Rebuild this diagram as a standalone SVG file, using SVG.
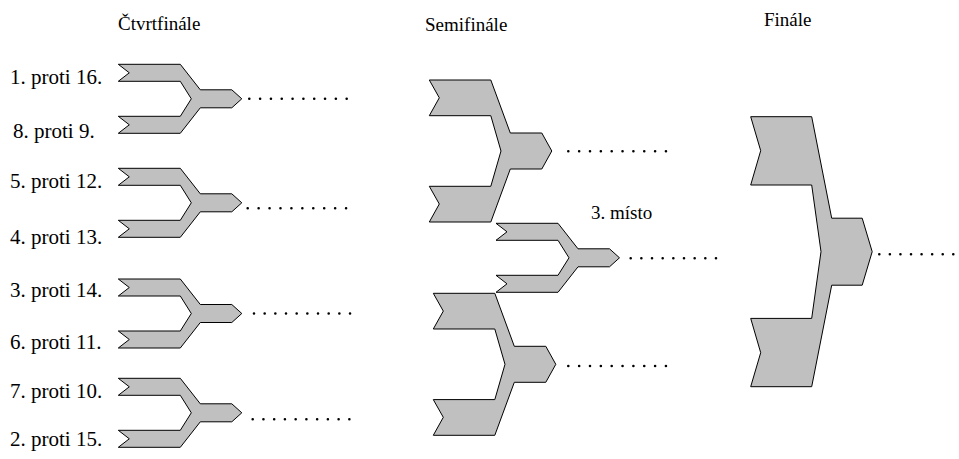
<svg xmlns="http://www.w3.org/2000/svg" width="959" height="459" viewBox="0 0 959 459">
<style>
.t{font-family:'Liberation Serif','DejaVu Serif','Times New Roman',serif;font-size:19px;fill:#000}
.l{font-size:21px}
.s{fill:#c0c0c0;stroke:#000;stroke-width:1;stroke-linejoin:miter}
.d{fill:none;stroke:#000;stroke-width:2.6;stroke-linecap:round}
</style>
<defs>
<path id="qf" d="M0,0 H62 L82,25.5 H113.5 L123.5,34.5 L113.5,43.5 H82 L62,69 H0 L11,60.5 L0,52 H62 L73,34.5 L62,17 H0 L11,8.5 Z"/>
<path id="sf" d="M0,0 H61.5 L81,53 H112.5 L122.5,71 L112.5,89 H81 L61.5,142 H0 L10,124 L0,106.3 H61.5 L71.7,71 L61.5,35.7 H0 L10,17.8 Z"/>
<path id="fi" d="M0,0 H61 L81,101.5 H111.5 L121.5,135 L111.5,168.5 H81 L61,270 H0 L10,236 L0,201.7 H61 L70.3,135 L61,68.3 H0 L10,34 Z"/>
</defs>
<g id="titles" font-family="Liberation Serif, serif">
<text class="t" x="118" y="30">Čtvrtfinále</text>
<text class="t" x="425" y="31">Semifinále</text>
<text class="t" x="764" y="26">Finále</text>
</g>
<g id="labels" font-family="Liberation Serif, serif">
<text class="t l" x="10" y="84">1. proti 16.</text>
<text class="t l" x="13" y="138">8. proti 9.</text>
<text class="t l" x="10" y="188">5. proti 12.</text>
<text class="t l" x="10" y="244">4. proti 13.</text>
<text class="t l" x="10" y="297">3. proti 14.</text>
<text class="t l" x="10" y="349">6. proti 11.</text>
<text class="t l" x="10" y="398">7. proti 10.</text>
<text class="t l" x="10" y="446">2. proti 15.</text>
<text class="t" x="591" y="219">3. místo</text>
</g>
<g id="qf1"><use href="#qf" class="s" x="118.3" y="64.3"/></g>
<g id="qf2"><use href="#qf" class="s" x="118.3" y="168.3"/></g>
<g id="qf3"><use href="#qf" class="s" x="118.3" y="279"/></g>
<g id="qf4"><use href="#qf" class="s" x="118.3" y="378.3"/></g>
<g id="sf1"><use href="#sf" class="s" x="429.3" y="80"/></g>
<g id="sf2"><use href="#sf" class="s" x="433.3" y="293.3"/></g>
<g id="third"><use href="#qf" class="s" x="496" y="223.3"/></g>
<g id="final"><use href="#fi" class="s" x="750.7" y="116.7"/></g>
<g id="connectors">
<path class="d" d="M249.3,98.8 H346.8" stroke-dasharray="0 10.82"/>
<path class="d" d="M247.7,208.3 H346.1" stroke-dasharray="0 10.93"/>
<path class="d" d="M254,313.5 H350.1" stroke-dasharray="0 10.67"/>
<path class="d" d="M252.7,419.3 H349.4" stroke-dasharray="0 10.74"/>
<path class="d" d="M568.3,151.3 H666.1" stroke-dasharray="0 10.85"/>
<path class="d" d="M568.3,366 H666.1" stroke-dasharray="0 10.85"/>
<path class="d" d="M630.7,258.3 H716.1" stroke-dasharray="0 10.66"/>
<path class="d" d="M879.3,254.3 H953.4" stroke-dasharray="0 10.57"/>
</g>
</svg>
